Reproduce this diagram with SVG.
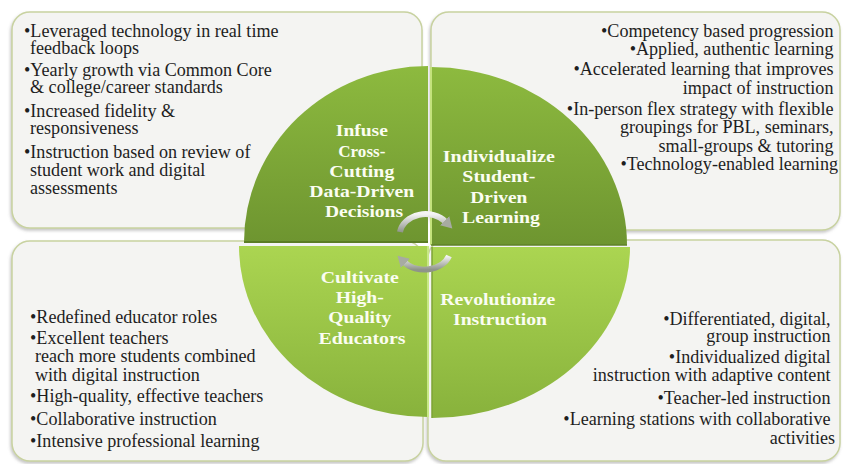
<svg xmlns="http://www.w3.org/2000/svg" width="843" height="464" viewBox="0 0 843 464">
<defs>
<style>
.box{fill:#f4f4f2;stroke:#c8d2a0;stroke-width:1.5;filter:url(#sh)}
.bt{font-family:'Liberation Serif','Tinos','DejaVu Serif','Noto Serif',serif;font-size:18.1px;fill:#1e1e1e}
.r{text-anchor:end}
.ct{font-family:'Liberation Serif','Tinos','DejaVu Serif','Noto Serif',serif;font-size:17.5px;font-weight:bold;fill:#fbfdf2;text-anchor:middle}
.arc{fill:none;stroke:url(#ag);stroke-width:6;stroke-linecap:butt}
</style>
<filter id="sh" x="-5%" y="-5%" width="110%" height="112%">
<feDropShadow dx="-1" dy="2" stdDeviation="1.5" flood-color="#808080" flood-opacity="0.45"/>
</filter>
<linearGradient id="gt" x1="0" y1="0" x2="0" y2="1">
<stop offset="0" stop-color="#8dba3f"/>
<stop offset="1" stop-color="#6e9530"/>
</linearGradient>
<linearGradient id="gb" x1="0" y1="0" x2="0" y2="1">
<stop offset="0" stop-color="#abd551"/>
<stop offset="1" stop-color="#88b23c"/>
</linearGradient>
<linearGradient id="ag" x1="0" y1="0" x2="0" y2="1">
<stop offset="0" stop-color="#f4f4f4"/>
<stop offset="1" stop-color="#8f948a"/>
</linearGradient>
<marker id="ah" markerWidth="13" markerHeight="13" refX="2" refY="6.5" orient="auto" markerUnits="userSpaceOnUse">
<path d="M0,0 L11,6.5 L0,13 Z" fill="#a7aba2"/>
</marker>
</defs>
<rect width="843" height="464" fill="#ffffff"/>

<g id="box-data">
<rect class="box" x="12" y="12" width="410" height="216" rx="18"/>
<text class="bt">
<tspan x="24" y="37">•Leveraged technology in real time</tspan>
<tspan x="30" y="54">feedback loops</tspan>
<tspan x="24" y="76">•Yearly growth via Common Core</tspan>
<tspan x="30" y="93">&amp; college/career standards</tspan>
<tspan x="24" y="117">•Increased fidelity &amp;</tspan>
<tspan x="30" y="134">responsiveness</tspan>
<tspan x="24" y="158">•Instruction based on review of</tspan>
<tspan x="30" y="176">student work and digital</tspan>
<tspan x="30" y="194">assessments</tspan>
</text>
</g>

<g id="box-individualize">
<rect class="box" x="431" y="12" width="409" height="218" rx="18"/>
<text class="bt r">
<tspan x="838" y="37">•Competency based progression</tspan>
<tspan x="838" y="55">•Applied, authentic learning</tspan>
<tspan x="838" y="75">•Accelerated learning that improves</tspan>
<tspan x="838" y="94">impact of instruction</tspan>
<tspan x="838" y="115">•In-person flex strategy with flexible</tspan>
<tspan x="838" y="133">groupings for PBL, seminars,</tspan>
<tspan x="838" y="152">small-groups &amp; tutoring</tspan>
<tspan x="838" y="170">•Technology-enabled learning</tspan>
</text>
</g>

<g id="box-cultivate">
<rect class="box" x="12" y="241" width="411" height="220" rx="18"/>
<text class="bt">
<tspan x="30" y="323">•Redefined educator roles</tspan>
<tspan x="30" y="344">•Excellent teachers</tspan>
<tspan x="35" y="362">reach more students combined</tspan>
<tspan x="35" y="381">with digital instruction</tspan>
<tspan x="30" y="402">•High-quality, effective teachers</tspan>
<tspan x="30" y="425">•Collaborative instruction</tspan>
<tspan x="30" y="447">•Intensive professional learning</tspan>
</text>
</g>

<g id="box-revolutionize">
<rect class="box" x="428" y="240" width="412" height="221" rx="18"/>
<text class="bt r">
<tspan x="835" y="325">•Differentiated, digital,</tspan>
<tspan x="835" y="342">group instruction</tspan>
<tspan x="835" y="363">•Individualized digital</tspan>
<tspan x="835" y="381">instruction with adaptive content</tspan>
<tspan x="835" y="404">•Teacher-led instruction</tspan>
<tspan x="835" y="425">•Learning stations with collaborative</tspan>
<tspan x="835" y="444">activities</tspan>
</text>
</g>

<g id="q-data">
<path d="M428,242 L244,242 A184,176 0 0 1 428,66 Z" fill="url(#gt)"/>
<path d="M244,242 L428,242" stroke="#5b7d24" stroke-width="2"/>
<text class="ct">
<tspan x="364" y="136" textLength="52" lengthAdjust="spacingAndGlyphs">Infuse</tspan>
<tspan x="364" y="157" textLength="47" lengthAdjust="spacingAndGlyphs">Cross-</tspan>
<tspan x="364" y="177" textLength="65" lengthAdjust="spacingAndGlyphs">Cutting</tspan>
<tspan x="364" y="197" textLength="105" lengthAdjust="spacingAndGlyphs">Data-Driven</tspan>
<tspan x="364" y="217" textLength="78" lengthAdjust="spacingAndGlyphs">Decisions</tspan>
</text>
</g>

<g id="q-individualize">
<path d="M431,245 L431,67 A196,178 0 0 1 627,245 Z" fill="url(#gt)"/>
<path d="M431,67 L431,245" stroke="#c4e27c" stroke-width="2"/>
<path d="M431,245 L627,245" stroke="#5f8228" stroke-width="1.5"/>
<text class="ct">
<tspan x="501" y="162" textLength="112" lengthAdjust="spacingAndGlyphs">Individualize</tspan>
<tspan x="501" y="182" textLength="73" lengthAdjust="spacingAndGlyphs">Student-</tspan>
<tspan x="501" y="203" textLength="57" lengthAdjust="spacingAndGlyphs">Driven</tspan>
<tspan x="501" y="223" textLength="78" lengthAdjust="spacingAndGlyphs">Learning</tspan>
</text>
</g>

<g id="q-cultivate">
<path d="M428,246 L428,417 A189,171 0 0 1 239,246 Z" fill="url(#gb)"/>
<path d="M428,246 L428,417" stroke="#c8e886" stroke-width="2"/>
<text class="ct">
<tspan x="362" y="283" textLength="78" lengthAdjust="spacingAndGlyphs">Cultivate</tspan>
<tspan x="362" y="303" textLength="48" lengthAdjust="spacingAndGlyphs">High-</tspan>
<tspan x="362" y="323" textLength="63" lengthAdjust="spacingAndGlyphs">Quality</tspan>
<tspan x="362" y="344" textLength="87" lengthAdjust="spacingAndGlyphs">Educators</tspan>
</text>
</g>

<g id="q-revolutionize">
<path d="M432,247 L630,247 A198,171 0 0 1 432,418 Z" fill="url(#gb)"/>
<path d="M432,247 L432,418" stroke="#7ea336" stroke-width="1.5"/>
<text class="ct">
<tspan x="500" y="305" textLength="115" lengthAdjust="spacingAndGlyphs">Revolutionize</tspan>
<tspan x="500" y="325" textLength="94" lengthAdjust="spacingAndGlyphs">Instruction</tspan>
</text>
</g>

<g id="connectors">
<path class="arc" d="M400,232 A26,21 0 0 1 446,222" marker-end="url(#ah)"/>
<path class="arc" d="M449,256 A26,20 0 0 1 404,262" marker-end="url(#ah)"/>
</g>
</svg>
